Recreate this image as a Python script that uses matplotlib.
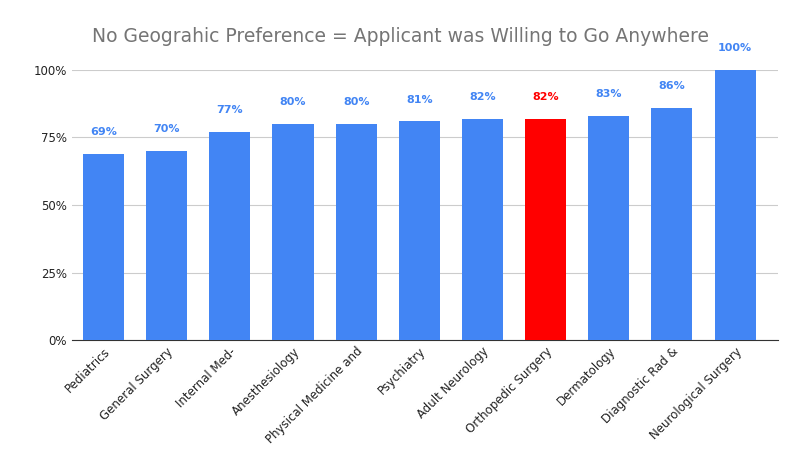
import matplotlib
matplotlib.use("Agg")
import matplotlib.pyplot as plt

categories = ["Pediatrics", "General Surgery", "Internal Med-", "Anesthesiology",
              "Physical Medicine and", "Psychiatry", "Adult Neurology",
              "Orthopedic Surgery", "Dermatology", "Diagnostic Rad &",
              "Neurological Surgery"]
values = [69, 70, 77, 80, 80, 81, 82, 82, 83, 86, 100]
highlight = "Orthopedic Surgery"

fig = plt.figure(figsize=(8.01, 4.65), dpi=100)
ax = fig.add_axes([72/801, 125/465, 706/801, 270/465])
colors = ["#ff0000" if c == highlight else "#4285f4" for c in categories]
x = list(range(len(categories)))
ax.bar(x, values, width=0.65, color=colors, zorder=3)
for xi, v, c in zip(x, values, colors):
    ax.annotate(f"{v}%", (xi, v), xytext=(0, 12), textcoords="offset points",
                ha="center", va="bottom", fontsize=8, fontweight="bold",
                color="#ff0000" if c == "#ff0000" else "#4285f4")
ax.set_xlim(-0.5, 10.68)
ax.set_ylim(0, 100)
ax.set_yticks([0, 25, 50, 75, 100])
ax.set_yticklabels(["0%", "25%", "50%", "75%", "100%"])
ax.grid(axis="y", color="#cccccc", linewidth=0.8, zorder=0)
for s in ["top", "right", "left"]:
    ax.spines[s].set_visible(False)
ax.spines["bottom"].set_color("#333333")
ax.tick_params(axis="both", length=0, labelsize=8.5, colors="#222222")
ax.set_xticks(x)
ax.set_xticklabels(categories, rotation=45, ha="right", rotation_mode="anchor")
fig.text(0.5, 36/465, "", ha="center")
fig.suptitle("No Geograhic Preference = Applicant was Willing to Go Anywhere",
             y=1 - 36/465, va="center", fontsize=13.5, color="#757575")
fig.savefig("out.png", dpi=100)
